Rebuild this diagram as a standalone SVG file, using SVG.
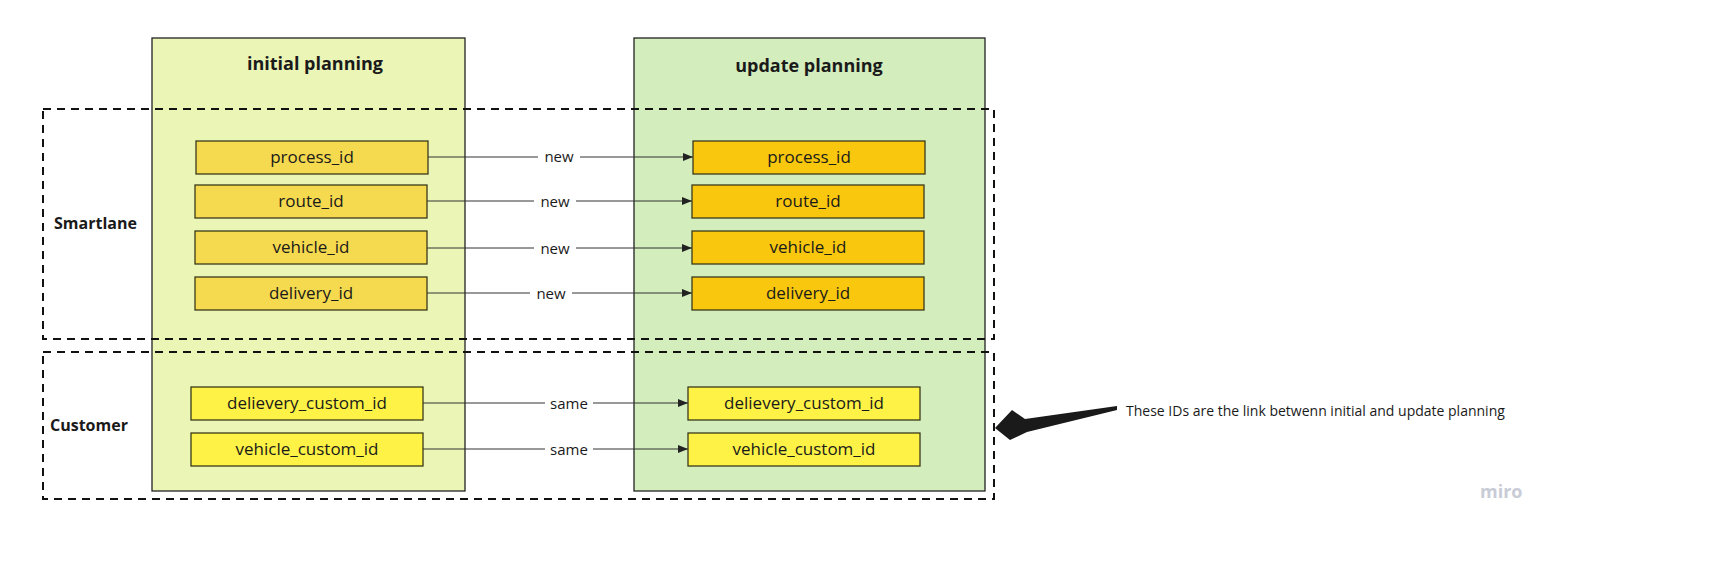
<svg xmlns="http://www.w3.org/2000/svg" width="1713" height="583" viewBox="0 0 1713 583">
<style>
text{font-family:"Open Sans","Noto Sans",sans-serif;fill:#1a1a1a}
.t{font-size:17px;text-anchor:middle}
.h{font-size:18px;font-weight:bold;text-anchor:middle}
.l{font-size:15px;text-anchor:middle}
.b{stroke:#3a3a1a;stroke-width:1.3}
.dash{fill:none;stroke:#111;stroke-width:2;stroke-dasharray:8,6}
.c{stroke:#333;stroke-width:1;fill:none;marker-end:url(#a)}
</style>
<defs><marker id="a" markerWidth="10" markerHeight="8" refX="10" refY="4" orient="auto" markerUnits="userSpaceOnUse"><path d="M0,0L10,4L0,8z" fill="#222"/></marker></defs>
<rect width="1713" height="583" fill="#fff"/>
<g id="panel-initial"><rect x="152" y="38" width="313" height="453" fill="#eaf5b6" stroke="#222" stroke-width="1.3"/><text class="h" x="315" y="70">initial planning</text></g>
<g id="panel-update"><rect x="634" y="38" width="351" height="453" fill="#d3edbd" stroke="#222" stroke-width="1.3"/><text class="h" x="809" y="72">update planning</text></g>
<g id="smartlane"><rect class="dash" x="43" y="109" width="951" height="230"/><text x="54" y="229" font-size="16" font-weight="bold">Smartlane</text></g>
<g id="customer"><rect class="dash" x="43" y="352" width="951" height="147"/><text x="50" y="431" font-size="16" font-weight="bold">Customer</text></g>
<g id="connectors">
<line class="c" x1="428" y1="157" x2="693" y2="157"/>
<line class="c" x1="427" y1="201" x2="692" y2="201"/>
<line class="c" x1="427" y1="248" x2="692" y2="248"/>
<line class="c" x1="427" y1="293" x2="692" y2="293"/>
<line class="c" x1="423" y1="403" x2="688" y2="403"/>
<line class="c" x1="423" y1="449" x2="688" y2="449"/>
<rect x="538" y="147" width="42" height="20" fill="#fff"/><text class="l" x="559" y="162">new</text>
<rect x="534" y="191" width="42" height="20" fill="#fff"/><text class="l" x="555" y="207">new</text>
<rect x="534" y="238" width="42" height="20" fill="#fff"/><text class="l" x="555" y="254">new</text>
<rect x="530" y="283" width="42" height="20" fill="#fff"/><text class="l" x="551" y="299">new</text>
<rect x="545" y="393" width="48" height="20" fill="#fff"/><text class="l" x="569" y="409">same</text>
<rect x="545" y="439" width="48" height="20" fill="#fff"/><text class="l" x="569" y="455">same</text>
</g>
<g id="n1"><rect class="b" x="196" y="141" width="232" height="33" fill="#f5d94f"/><text class="t" x="312" y="163">process_id</text></g>
<g id="n2"><rect class="b" x="195" y="185" width="232" height="33" fill="#f5d94f"/><text class="t" x="311" y="207">route_id</text></g>
<g id="n3"><rect class="b" x="195" y="231" width="232" height="33" fill="#f5d94f"/><text class="t" x="311" y="253">vehicle_id</text></g>
<g id="n4"><rect class="b" x="195" y="277" width="232" height="33" fill="#f5d94f"/><text class="t" x="311" y="299">delivery_id</text></g>
<g id="n5"><rect class="b" x="191" y="387" width="232" height="33" fill="#fdf245"/><text class="t" x="307" y="409">delievery_custom_id</text></g>
<g id="n6"><rect class="b" x="191" y="433" width="232" height="33" fill="#fdf245"/><text class="t" x="307" y="455">vehicle_custom_id</text></g>
<g id="m1"><rect class="b" x="693" y="141" width="232" height="33" fill="#f8c70e"/><text class="t" x="809" y="163">process_id</text></g>
<g id="m2"><rect class="b" x="692" y="185" width="232" height="33" fill="#f8c70e"/><text class="t" x="808" y="207">route_id</text></g>
<g id="m3"><rect class="b" x="692" y="231" width="232" height="33" fill="#f8c70e"/><text class="t" x="808" y="253">vehicle_id</text></g>
<g id="m4"><rect class="b" x="692" y="277" width="232" height="33" fill="#f8c70e"/><text class="t" x="808" y="299">delivery_id</text></g>
<g id="m5"><rect class="b" x="688" y="387" width="232" height="33" fill="#fdf245"/><text class="t" x="804" y="409">delievery_custom_id</text></g>
<g id="m6"><rect class="b" x="688" y="433" width="232" height="33" fill="#fdf245"/><text class="t" x="804" y="455">vehicle_custom_id</text></g>
<g id="note"><path d="M1117,406 L1025,419 L1012,410 L995,428 L1010,440 L1027,432 L1117,410 Z" fill="#1a1a1a"/><text x="1126" y="416" font-size="14">These IDs are the link betwenn initial and update planning</text></g>
<text x="1480" y="498" font-size="18" font-weight="bold" style="fill:#c8ccd6;font-family:'Open Sans',sans-serif">miro</text>
</svg>
